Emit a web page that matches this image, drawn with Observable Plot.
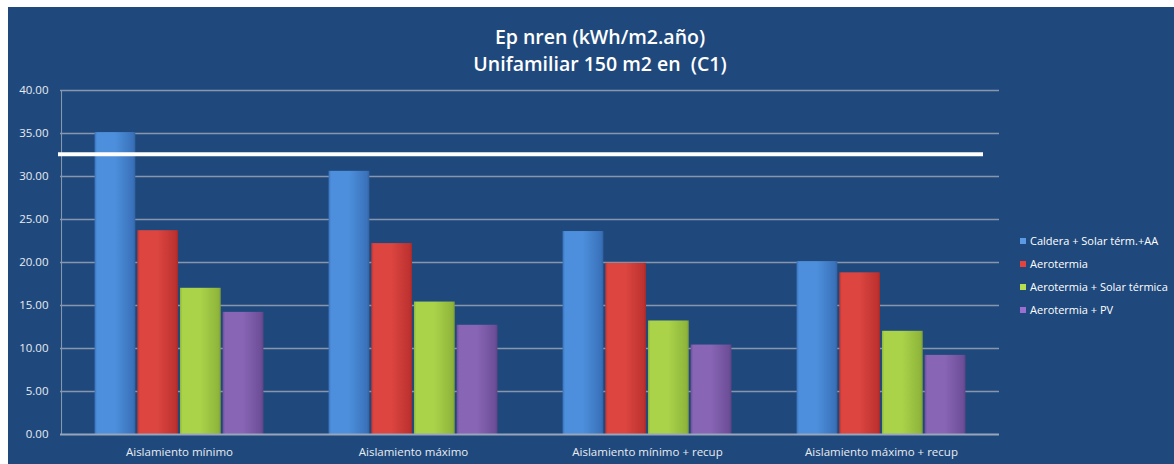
<!DOCTYPE html>
<html>
<head>
<meta charset="utf-8">
<script src="https://cdn.jsdelivr.net/npm/d3@7"></script>
<script src="https://cdn.jsdelivr.net/npm/@observablehq/plot@0.6"></script>
<style>
  html, body { margin: 0; padding: 0; background: #ffffff; overflow: hidden; width: 1174px; height: 464px; }
  #bg { position: absolute; left: 8px; top: 7px; width: 1166px; height: 457px; background: #1f497d; }
  #title { position: absolute; left: 0; top: 23px; width: 1200px; text-align: center; color: #ffffff;
           font-family: "Open Sans", sans-serif; font-weight: 600; font-size: 19.5px; line-height: 27px; }
  #chart { position: absolute; left: 0; top: 0; }
  #legend { position: absolute; left: 1020px; top: 229px; font-family: "Open Sans", sans-serif; font-size: 11px; color: #ffffff; white-space: nowrap; }
  .item { height: 23px; line-height: 16px; display: flex; align-items: center; }
  .sw { display: inline-block; width: 6px; height: 6px; margin-right: 4px; }
</style>
</head>
<body>
<div id="bg"></div>
<div id="title">Ep nren (kWh/m2.año)<br>Unifamiliar 150 m2 en&nbsp; (C1)</div>
<div id="chart"></div>
<div id="legend"></div>
<script>
// ---- data ----
const categories = ["Aislamiento mínimo", "Aislamiento máximo", "Aislamiento mínimo + recup", "Aislamiento máximo + recup"];
const seriesNames = ["Caldera + Solar térm.+AA", "Aerotermia", "Aerotermia + Solar térmica", "Aerotermia + PV"];
const calderaSolarAA = [35.1, 30.6, 23.6, 20.1];
const aerotermia = [23.7, 22.2, 19.9, 18.8];
const aerotermiaSolar = [17.0, 15.4, 13.2, 12.0];
const aerotermiaPV = [14.2, 12.7, 10.4, 9.2];
const referenceValue = [32.6];
const yTicks = [0, 5, 10, 15, 20, 25, 30, 35, 40];

const seriesValues = [calderaSolarAA, aerotermia, aerotermiaSolar, aerotermiaPV];
const colorsTop = ["#4d8fdc", "#dc4540", "#aad34a", "#8865b5"];
const colorsBot = ["#3a72bb", "#bd3230", "#8fb63b", "#6d4e98"];
const legendColors = ["#5b9be6", "#e8423e", "#b6dc4f", "#9a6fd0"];

// ---- layout ----
const W = 1174, H = 464;
const mL = 60, mR = 175, mT = 90, mB = 30;
const bw = (W - mL - mR) / categories.length;   // band width of one category
const barW = 41.5, gap = 1.2;
const groupStart = (bw - seriesValues.length * barW - (seriesValues.length - 1) * gap) / 2;

const marks = [
  Plot.ruleY(yTicks.slice(1), {stroke: "#8796ad", strokeWidth: 1.6})
];
seriesValues.forEach((vals, s) => {
  const data = categories.map((c, i) => ({cat: c, value: vals[i]}));
  const il = groupStart + s * (barW + gap);
  marks.push(Plot.barY(data, {
    x: "cat", y: "value", fill: `url(#grad${s})`,
    insetLeft: il, insetRight: bw - il - barW
  }));
});
// left axis line (a thin bar at the start of the first band)
marks.push(Plot.barY([0], {x: () => categories[0], y1: 0, y2: yTicks[yTicks.length - 1], fill: "#8796ad", insetLeft: -1, insetRight: bw - 0.8}));
marks.push(Plot.ruleY([0], {stroke: "#98a5ba", strokeWidth: 2}));
marks.push(Plot.ruleY(referenceValue, {stroke: "#ffffff", strokeWidth: 4, insetLeft: -2, insetRight: 16}));

const chart = Plot.plot({
  width: W, height: H,
  marginLeft: mL, marginRight: mR, marginTop: mT, marginBottom: mB,
  style: {background: "transparent", fontFamily: "'Open Sans', sans-serif", fontSize: "11.5px", color: "#e8ecf2", overflow: "visible"},
  x: {domain: categories, padding: 0, tickSize: 0, tickPadding: 13, label: null},
  y: {domain: [0, 40], ticks: yTicks, tickFormat: d3.format(".2f"), tickSize: 0, tickPadding: 12, label: null},
  marks
});

// gradients for the bevel-like bar look
const ns = "http://www.w3.org/2000/svg";
const defs = document.createElementNS(ns, "defs");
colorsTop.forEach((c, s) => {
  const g = document.createElementNS(ns, "linearGradient");
  g.setAttribute("id", `grad${s}`);
  g.setAttribute("x1", "0"); g.setAttribute("y1", "0"); g.setAttribute("x2", "1"); g.setAttribute("y2", "0");
  const stops = [[0, colorsBot[s]], [0.06, c], [0.5, c], [0.94, colorsBot[s]], [1, d3.color(colorsBot[s]).darker(0.4).formatHex()]];
  stops.forEach(([o, col]) => {
    const st = document.createElementNS(ns, "stop");
    st.setAttribute("offset", o); st.setAttribute("stop-color", col);
    g.appendChild(st);
  });
  defs.appendChild(g);
});
chart.insertBefore(defs, chart.firstChild);
document.getElementById("chart").appendChild(chart);

// legend
const legend = document.getElementById("legend");
seriesNames.forEach((name, s) => {
  const item = document.createElement("div");
  item.className = "item";
  item.innerHTML = `<span class="sw" style="background:${legendColors[s]}"></span>${name}`;
  legend.appendChild(item);
});
</script>
</body>
</html>
